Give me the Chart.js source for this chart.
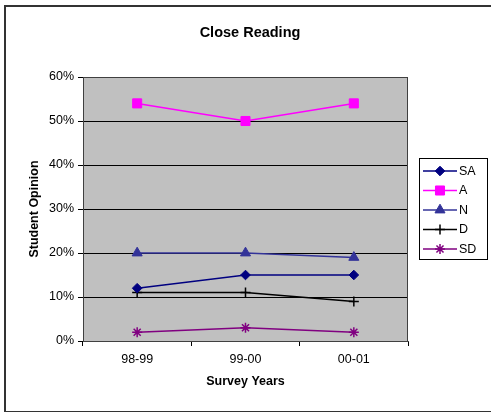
<!DOCTYPE html>
<html lang="en">
  <head>
    <meta charset="UTF-8" />
    <script src="https://cdn.jsdelivr.net/npm/chart.js@4.4.1/dist/chart.umd.min.js"></script>
    <title>Close Reading</title>
    <style>
      html, body { margin: 0; padding: 0; background: #fff; overflow: hidden; }
      #frame {
        position: absolute; left: 4px; top: 5px; width: 600px; height: 404px;
        border: 2px solid #333; border-right: none;
      }
      #wrap { position: absolute; left: 0; top: 0; width: 491px; height: 412px; }
    </style>
  </head>
  <body>
    <div id="frame"></div>
    <div id="wrap"><canvas id="myChart" width="491" height="412"></canvas></div>
    <script>
      const years = ["98-99", "99-00", "00-01"];
      const sa = [12, 15, 15];
      const a = [54, 50, 54];
      const n = [20, 20, 19];
      const d = [11, 11, 9];
      const sd = [2, 3, 2];
      const yTicks = [0, 10, 20, 30, 40, 50, 60];
      const chartTitle = "Close Reading";

      const FONT = "'Liberation Sans', Arial, sans-serif";

      function series(label, data, color, style, radius) {
        return {
          label: label,
          data: data,
          borderColor: color,
          backgroundColor: color,
          borderWidth: 1.5,
          pointStyle: style,
          pointRadius: radius,
          pointHoverRadius: radius,
          pointBorderWidth: style === "cross" || style === "star" ? 1.5 : 1,
          tension: 0,
        };
      }

      const datasets = [
        series("SA", sa, "#000080", "rectRot", 4.8),
        series("A", a, "#FF00FF", "rect", 6.4),
        series("N", n, "#333399", "triangle", 5.8),
        series("D", d, "#000000", "cross", 5),
        series("SD", sd, "#800080", "star", 5),
      ];

      // grey plot area, its frame and the title over the whole picture
      const plotArea = {
        id: "plotArea",
        beforeDraw(chart) {
          const { ctx, chartArea: c } = chart;
          ctx.save();
          ctx.fillStyle = "#C0C0C0";
          ctx.fillRect(c.left, c.top, c.right - c.left, c.bottom - c.top);
          ctx.fillStyle = "#000";
          ctx.font = "bold 14.5px " + FONT;
          ctx.textAlign = "center";
          ctx.textBaseline = "middle";
          ctx.fillText(chartTitle, 250, 33);
          ctx.restore();
        },
        afterDatasetsDraw(chart) {
          const { ctx, chartArea: c } = chart;
          ctx.save();
          ctx.strokeStyle = "#404040";
          ctx.lineWidth = 1;
          ctx.strokeRect(c.left + 0.5, c.top + 0.5, c.right - c.left - 1, c.bottom - c.top);
          ctx.restore();
        },
      };

      // boxed legend on the right
      const boxLegend = {
        id: "boxLegend",
        afterDraw(chart) {
          const ctx = chart.ctx;
          ctx.save();
          ctx.fillStyle = "#fff";
          ctx.fillRect(419, 158, 68, 101);
          ctx.strokeStyle = "#000";
          ctx.lineWidth = 1;
          ctx.strokeRect(419.5, 158.5, 68, 101);
          chart.data.datasets.forEach((ds, i) => {
            const y = 171 + i * 19.5;
            ctx.strokeStyle = ds.borderColor;
            ctx.fillStyle = ds.backgroundColor;
            ctx.lineWidth = ds.borderWidth;
            ctx.beginPath();
            ctx.moveTo(423, y);
            ctx.lineTo(457, y);
            ctx.stroke();
            ctx.lineWidth = ds.pointBorderWidth;
            Chart.helpers.drawPoint(ctx, {
              pointStyle: ds.pointStyle,
              radius: ds.pointRadius,
              rotation: 0,
              borderWidth: ds.pointBorderWidth,
            }, 440, y);
            ctx.fillStyle = "#000";
            ctx.font = "12.5px " + FONT;
            ctx.textBaseline = "middle";
            ctx.textAlign = "left";
            ctx.fillText(ds.label, 459, y + 0.5);
          });
          ctx.restore();
        },
      };

      const ctx = document.getElementById("myChart").getContext("2d");
      const myChart = new Chart(ctx, {
        type: "line",
        data: { labels: years, datasets: datasets },
        plugins: [plotArea, boxLegend],
        options: {
          responsive: false,
          animation: false,
          events: [],
          layout: { padding: { left: 0, top: 77, right: 83, bottom: 0 } },
          plugins: {
            legend: { display: false },
            tooltip: { enabled: false },
            title: { display: false },
          },
          scales: {
            x: {
              offset: true,
              grid: {
                offset: true,
                drawOnChartArea: false,
                drawTicks: true,
                tickLength: 5,
                color: "#000",
              },
              border: { display: true, color: "#404040" },
              ticks: {
                color: "#000",
                padding: 6,
                maxRotation: 0,
                font: { family: FONT, size: 12.5 },
              },
              title: {
                display: true,
                text: "Survey Years",
                color: "#000",
                font: { family: FONT, size: 12.5, weight: "bold" },
                padding: { top: 0, bottom: 23 },
              },
              afterFit(scale) { scale.height = 71; },
            },
            y: {
              min: 0,
              max: 60,
              afterBuildTicks(scale) { scale.ticks = yTicks.map((v) => ({ value: v })); },
              grid: {
                color: "#000",
                lineWidth: 1,
                drawTicks: true,
                tickLength: 5,
              },
              border: { display: true, color: "#404040" },
              ticks: {
                color: "#000",
                padding: 4,
                font: { family: FONT, size: 12.5 },
                callback: (v) => v + "%",
              },
              title: {
                display: true,
                text: "Student Opinion",
                color: "#000",
                font: { family: FONT, size: 12.5, weight: "bold" },
                padding: { top: 27.5, bottom: 0 },
              },
              afterFit(scale) { scale.width = 83; },
            },
          },
        },
      });
    </script>
  </body>
</html>
